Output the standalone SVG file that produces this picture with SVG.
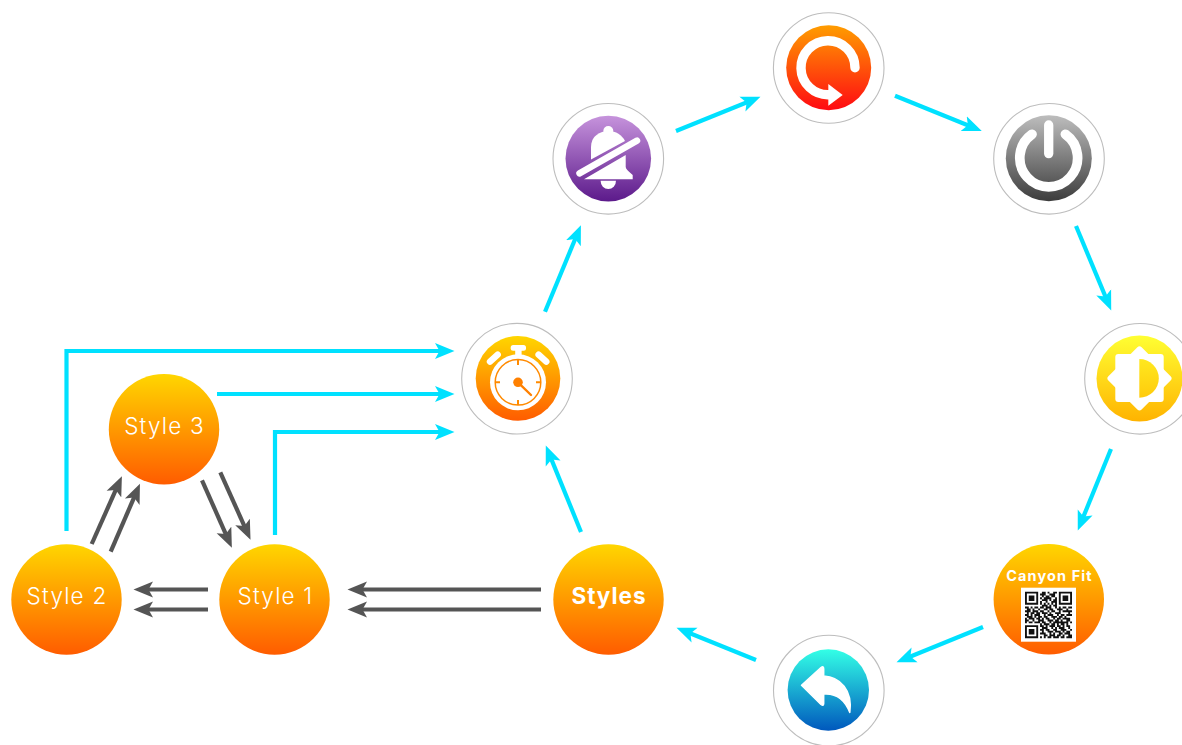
<svg xmlns="http://www.w3.org/2000/svg" width="1182" height="745" viewBox="0 0 1182 745">
<style>
.ring{fill:#fff;stroke:#bdbdbd;stroke-width:1.1}
.lbl{font-family:"Inter","Liberation Sans",sans-serif;font-weight:300;font-size:22.5px;letter-spacing:1.2px;fill:#fff;text-anchor:middle}
.c{fill:none;stroke:#00e1ff;stroke-width:4.2}
.g{fill:none;stroke:#555;stroke-width:4.2}
.arc{fill:none;stroke:#fff;stroke-linecap:round}
</style>
<defs>
<linearGradient id="o" x1="0" y1="0" x2="0" y2="1"><stop offset="0" stop-color="#ffd600"/><stop offset="1" stop-color="#ff5c00"/></linearGradient>
<linearGradient id="p" x1="0" y1="0" x2="0" y2="1"><stop offset="0" stop-color="#c693dc"/><stop offset="1" stop-color="#5c1a8b"/></linearGradient>
<linearGradient id="r" x1="0" y1="0" x2="0" y2="1"><stop offset="0" stop-color="#ff9d00"/><stop offset="1" stop-color="#ff0a12"/></linearGradient>
<linearGradient id="k" x1="0" y1="0" x2="0" y2="1"><stop offset="0" stop-color="#bdbdbd"/><stop offset="1" stop-color="#3c3c3c"/></linearGradient>
<linearGradient id="y" x1="0" y1="0" x2="0" y2="1"><stop offset="0" stop-color="#ffff33"/><stop offset="1" stop-color="#ffb300"/></linearGradient>
<linearGradient id="yh" x1="0" y1="0" x2="0" y2="1"><stop offset="0" stop-color="#ffe81f"/><stop offset="1" stop-color="#ffcb0c"/></linearGradient>
<linearGradient id="b" x1="0" y1="0" x2="0" y2="1"><stop offset="0" stop-color="#33ffe6"/><stop offset="1" stop-color="#0058bd"/></linearGradient>
<marker id="mc" markerUnits="userSpaceOnUse" markerWidth="21" markerHeight="18" refX="7" refY="9" orient="auto"><path d="M0,1L19.5,9L0,17L4.5,9Z" fill="#00e1ff"/></marker>
<marker id="mg" markerUnits="userSpaceOnUse" markerWidth="21" markerHeight="18" refX="7" refY="9" orient="auto"><path d="M0,1L19.5,9L0,17L4.5,9Z" fill="#555"/></marker>
</defs>
<g id="connectors">
<g class="c">
<path marker-end="url(#mc)" d="M545,311.7L576.1,236.8"/>
<path marker-end="url(#mc)" d="M676,131L748.9,101.5"/>
<path marker-end="url(#mc)" d="M895,95.7L970.2,126.2"/>
<path marker-end="url(#mc)" d="M1076,226L1106.4,298.9"/>
<path marker-end="url(#mc)" d="M1111,449L1082.5,518.9"/>
<path marker-end="url(#mc)" d="M983,627L908.1,657.5"/>
<path marker-end="url(#mc)" d="M756,660L688.1,632.5"/>
<path marker-end="url(#mc)" d="M581,532L550.5,457.1"/>
<path marker-end="url(#mc)" d="M66.5,531V351H442"/>
<path marker-end="url(#mc)" d="M217,394H442"/>
<path marker-end="url(#mc)" d="M275,535V432H442"/>
</g>
<g class="g">
<path marker-end="url(#mg)" d="M541,589.5H360"/>
<path marker-end="url(#mg)" d="M541,609.5H360"/>
<path marker-end="url(#mg)" d="M208,589.5H146"/>
<path marker-end="url(#mg)" d="M208,609.5H146"/>
<path marker-end="url(#mg)" d="M91.7,544L116.8,487.7"/>
<path marker-end="url(#mg)" d="M110.7,551.7L135,495.3"/>
<path marker-end="url(#mg)" d="M220.3,472.3L245.4,528.3"/>
<path marker-end="url(#mg)" d="M202,480.3L226.8,536.3"/>
</g>
</g>
<g id="timer">
<circle class="ring" cx="517" cy="378.7" r="55.3"/>
<circle cx="518" cy="378.4" r="42.3" fill="url(#o)"/>
<circle cx="518" cy="382.3" r="28" fill="#fff"/>
<circle cx="518" cy="382.3" r="22.8" fill="none" stroke="#ff8a00" stroke-width="1.5"/>
<path d="M518,360V365M518,400V405M495.5,382.3H500M536,382.3H540.5" stroke="#ff8a00" stroke-width="2" fill="none"/>
<circle cx="518" cy="382.3" r="4.8" fill="#ff8000"/>
<path d="M518,382.3L531,395" stroke="#ff8000" stroke-width="2.4" stroke-linecap="round"/>
<rect x="510.7" y="345" width="15.3" height="5.8" rx="2.5" fill="#fff"/>
<rect x="515.2" y="350" width="6.4" height="7" fill="#fff"/>
<path class="arc" stroke-width="6.4" d="M490,361.7L497.7,354.6M538.6,354.6L546.3,361.7"/>
</g>
<g id="bell-off">
<circle class="ring" cx="608.3" cy="158.8" r="55.3"/>
<circle cx="608.3" cy="158.6" r="42.8" fill="url(#p)"/>
<circle cx="608.3" cy="131" r="5" fill="#fff"/>
<path fill="#fff" d="M591,159.5V147C591,136 600,131 608.3,131C616,131 622,135 625,141Z"/>
<path fill="#fff" d="M584,179.3L625.7,155V166.7C626,170 630,172 632.7,175V179.3Z"/>
<path fill="#fff" d="M600.6,180.7H616A7.7,8.4 0 0 1 600.6,180.7Z"/>
<path class="arc" stroke-width="6.5" d="M579.5,173.3L637,140.7"/>
</g>
<g id="refresh">
<circle class="ring" cx="828.7" cy="68" r="55.3"/>
<circle cx="828.7" cy="67.7" r="42.5" fill="url(#r)"/>
<path class="arc" stroke-width="9.4" d="M855,67.7A27,27 0 1 0 829,94.7"/>
<path fill="#fff" d="M828.3,84L842.7,95L828.3,105.7Z"/>
</g>
<g id="power">
<circle class="ring" cx="1049" cy="158.8" r="55.3"/>
<circle cx="1048.8" cy="158.3" r="43" fill="url(#k)"/>
<path class="arc" stroke-width="9.7" d="M1032,134.3A28.9,28.9 0 1 0 1065.4,134.3"/>
<path class="arc" stroke-width="9.3" d="M1048.7,125V153.6"/>
</g>
<g id="brightness">
<circle class="ring" cx="1140" cy="378.8" r="55.3"/>
<circle cx="1139.5" cy="378.6" r="43" fill="url(#y)"/>
<rect x="1115.3" y="354" width="48.4" height="48" rx="3" fill="#fff"/>
<rect x="1116" y="354.8" width="47" height="47" rx="3" fill="#fff" transform="rotate(45 1139.5 378.3)"/>
<path d="M1139.3,359A19.5,19.4 0 0 1 1139.3,397.8Z" fill="url(#yh)"/>
</g>
<g id="qr">
<circle cx="1048.8" cy="599.3" r="55.2" fill="url(#o)"/>
<text x="1049.5" y="581" style="font-family:'Inter','Liberation Sans',sans-serif;font-weight:700;font-size:14.5px;letter-spacing:1.1px;fill:#fff;text-anchor:middle">Canyon Fit</text>
<rect x="1021" y="587.7" width="55" height="54" fill="#fff"/>
<g transform="translate(1025,591.7) scale(1.88,1.86)">
<path fill="none" stroke="#111" stroke-width="1" d="M0,.5h7M9,.5h2M12,.5h1M15,.5h2M18,.5h7M0,1.5h1M6,1.5h1M8,1.5h3M13,1.5h3M18,1.5h1M24,1.5h1M0,2.5h1M2,2.5h3M6,2.5h1M9,2.5h1M11,2.5h2M14,2.5h2M18,2.5h1M20,2.5h3M24,2.5h1M0,3.5h1M2,3.5h3M6,3.5h1M8,3.5h1M10,3.5h4M16,3.5h1M18,3.5h1M20,3.5h3M24,3.5h1M0,4.5h1M2,4.5h3M6,4.5h1M9,4.5h3M13,4.5h1M15,4.5h2M18,4.5h1M20,4.5h3M24,4.5h1M0,5.5h1M6,5.5h1M8,5.5h1M11,5.5h1M14,5.5h3M18,5.5h1M24,5.5h1M0,6.5h7M8,6.5h1M10,6.5h1M12,6.5h1M14,6.5h1M16,6.5h1M18,6.5h7M9,7.5h3M13,7.5h1M15,7.5h2M0,8.5h2M3,8.5h1M5,8.5h2M8,8.5h2M11,8.5h3M16,8.5h1M18,8.5h1M20,8.5h2M23,8.5h2M1,9.5h2M4,9.5h1M7,9.5h1M10,9.5h2M13,9.5h2M17,9.5h3M22,9.5h1M0,10.5h3M4,10.5h3M8,10.5h2M12,10.5h1M14,10.5h2M18,10.5h1M20,10.5h5M1,11.5h1M3,11.5h2M6,11.5h2M9,11.5h3M13,11.5h1M16,11.5h3M23,11.5h1M0,12.5h2M3,12.5h1M5,12.5h3M10,12.5h1M12,12.5h3M17,12.5h1M19,12.5h2M22,12.5h3M1,13.5h3M5,13.5h1M7,13.5h2M10,13.5h2M14,13.5h3M18,13.5h2M21,13.5h1M0,14.5h1M2,14.5h3M6,14.5h2M9,14.5h1M11,14.5h2M15,14.5h1M17,14.5h2M20,14.5h4M0,15.5h2M4,15.5h1M7,15.5h3M12,15.5h3M16,15.5h2M19,15.5h1M22,15.5h2M0,16.5h1M2,16.5h2M5,16.5h3M9,16.5h2M13,16.5h1M15,16.5h3M18,16.5h5M24,16.5h1M8,17.5h1M10,17.5h3M14,17.5h2M17,17.5h1M19,17.5h2M22,17.5h1M0,18.5h7M8,18.5h2M11,18.5h1M13,18.5h3M17,18.5h2M20,18.5h1M22,18.5h2M0,19.5h1M6,19.5h1M9,19.5h3M14,19.5h1M16,19.5h1M18,19.5h3M23,19.5h1M0,20.5h1M2,20.5h3M6,20.5h1M8,20.5h2M11,20.5h2M15,20.5h2M19,20.5h3M24,20.5h1M0,21.5h1M2,21.5h3M6,21.5h1M9,21.5h1M12,21.5h3M16,21.5h3M20,21.5h1M22,21.5h2M0,22.5h1M2,22.5h3M6,22.5h1M8,22.5h3M13,22.5h1M15,22.5h1M18,22.5h2M21,22.5h3M0,23.5h1M6,23.5h1M10,23.5h2M13,23.5h3M17,23.5h2M20,23.5h1M23,23.5h2M0,24.5h7M8,24.5h1M10,24.5h1M12,24.5h2M15,24.5h3M19,24.5h2M22,24.5h3"/>
</g>
</g>
<g id="back">
<circle class="ring" cx="828.8" cy="690.6" r="55.3"/>
<circle cx="828.3" cy="690" r="40.7" fill="url(#b)"/>
<path fill="#fff" stroke="#fff" stroke-width="1.5" stroke-linejoin="round" d="M801.5,685.3L821,667.5Q823.7,665.5 823.7,669V676C840,677 853,690 849.8,712.5C845,700 836,693 823.7,694V703.5Q823.7,706.5 821,704.5Z"/>
</g>
<g id="styles"><circle cx="608.5" cy="599.5" r="55.2" fill="url(#o)"/><text x="609" y="604" class="lbl" style="font-weight:700;letter-spacing:1px">Styles</text></g>
<g id="style1"><circle cx="274.5" cy="599.5" r="55.2" fill="url(#o)"/><text x="275.5" y="604" class="lbl">Style 1</text></g>
<g id="style2"><circle cx="66.5" cy="599.5" r="55.2" fill="url(#o)"/><text x="67" y="604" class="lbl">Style 2</text></g>
<g id="style3"><circle cx="164" cy="429.3" r="55.2" fill="url(#o)"/><text x="164.5" y="434" class="lbl">Style 3</text></g>
</svg>
